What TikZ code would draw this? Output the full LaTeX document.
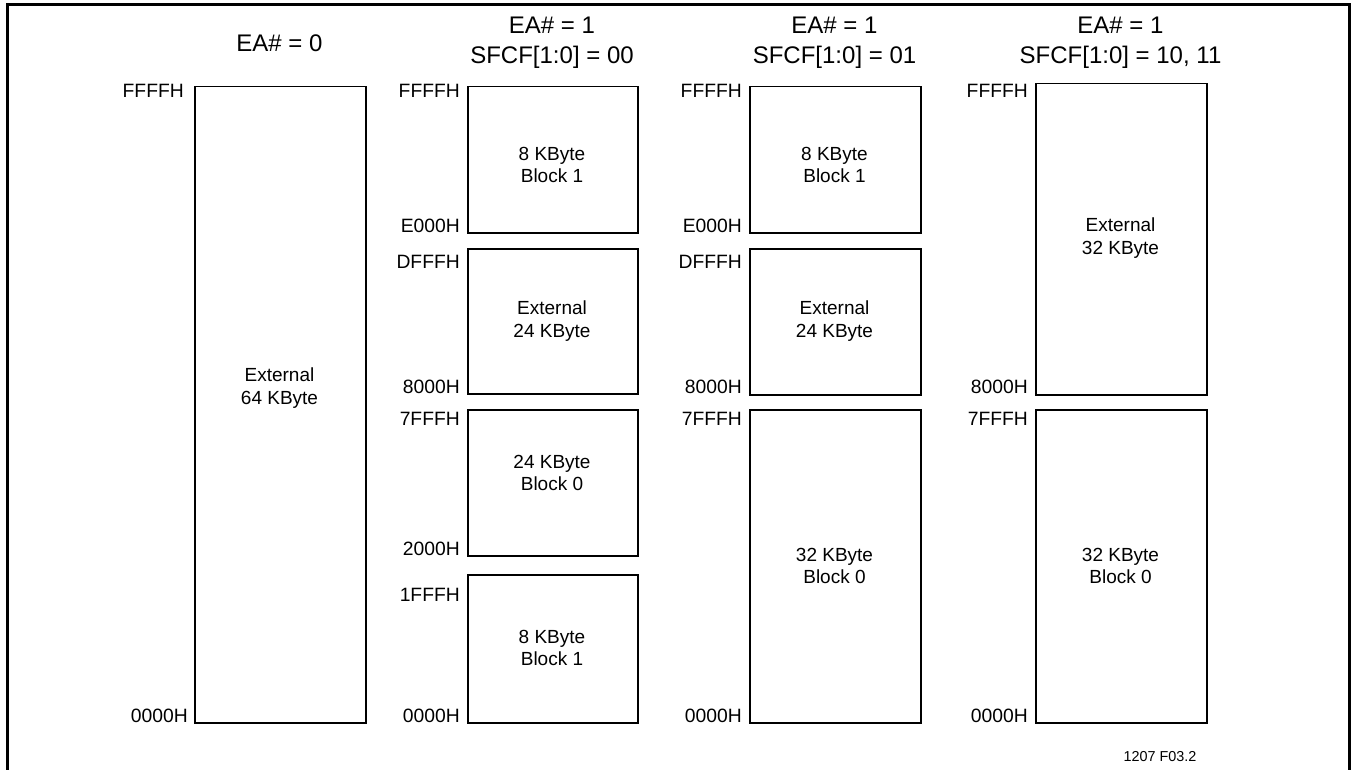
\documentclass[tikz,border=0pt]{standalone}
\usepackage{fontspec}
\setmainfont{Liberation Sans}
\begin{document}
\begin{tikzpicture}[x=1pt,y=-1pt,
  box/.style={draw, line width=1.5pt, inner sep=0pt, anchor=north west},
  boxtxt/.style={align=center, inner sep=0pt, font=\fontsize{19}{22.5}\selectfont},
  toplab/.style={anchor=north east, inner sep=0pt, font=\fontsize{19.3}{22}\selectfont},
  botlab/.style={anchor=base east, inner sep=0pt, font=\fontsize{19.3}{22}\selectfont},
  title/.style={align=center, inner sep=0pt, font=\fontsize{24}{30}\selectfont},
  foot/.style={inner sep=0pt, font=\fontsize{14.4}{17}\selectfont}]
\useasboundingbox (0,0) rectangle (1351,770);
% frame
\draw[line width=3pt, line join=miter] (7.5,772) -- (7.5,5) -- (1349,5) -- (1349,772);
% titles
\node[title] (t1) at (279.5,43) {EA\# = 0};
\node[title] (t2) at (552,43) {EA\# = 1\\SFCF[1:0] = 00};
\node[title] (t3) at (834.5,43) {EA\# = 1\\SFCF[1:0] = 01};
\node[title] (t4) at (1120.5,43) {EA\# = 1\\SFCF[1:0] = 10, 11};
% column 1
\node[box, minimum width=171pt, minimum height=636pt] (b1) at (194,86) {};
\node[boxtxt] (x1) at (279.5,388) {External\\64 KByte};
\node[toplab] (l1a) at (184,84) {FFFFH};
\node[botlab] (l1b) at (188,722) {0000H};
% column 2
\node[box, minimum width=170pt, minimum height=146pt] (b2a) at (467,86) {};
\node[boxtxt] (x2a) at (552,165) {8 KByte\\Block 1};
\node[box, minimum width=170pt, minimum height=145pt] (b2b) at (467,248) {};
\node[boxtxt] (x2b) at (552,321) {External\\24 KByte};
\node[box, minimum width=170pt, minimum height=146pt] (b2c) at (467,409) {};
\node[boxtxt] (x2c) at (552,473) {24 KByte\\Block 0};
\node[box, line width=2.2pt, minimum width=170pt, minimum height=148pt] (b2d) at (467,574) {};
\node[boxtxt] (x2d) at (552,648) {8 KByte\\Block 1};
\node[toplab] (l2a) at (460,84) {FFFFH};
\node[botlab] (l2b) at (460,232) {E000H};
\node[toplab] (l2c) at (460,255) {DFFFH};
\node[botlab] (l2d) at (460,393) {8000H};
\node[toplab] (l2e) at (460,412) {7FFFH};
\node[botlab] (l2f) at (460,555) {2000H};
\node[toplab] (l2g) at (460,588) {1FFFH};
\node[botlab] (l2h) at (460,722) {0000H};
% column 3
\node[box, minimum width=171pt, minimum height=146pt] (b3a) at (749,86) {};
\node[boxtxt] (x3a) at (834.5,165) {8 KByte\\Block 1};
\node[box, minimum width=171pt, minimum height=146pt] (b3b) at (749,248) {};
\node[boxtxt] (x3b) at (834.5,321) {External\\24 KByte};
\node[box, line width=1.8pt, minimum width=171pt, minimum height=313pt] (b3c) at (749,409) {};
\node[boxtxt] (x3c) at (834.5,566) {32 KByte\\Block 0};
\node[toplab] (l3a) at (742,84) {FFFFH};
\node[botlab] (l3b) at (742,232) {E000H};
\node[toplab] (l3c) at (742,255) {DFFFH};
\node[botlab] (l3d) at (742,393) {8000H};
\node[toplab] (l3e) at (742,412) {7FFFH};
\node[botlab] (l3f) at (742,722) {0000H};
% column 4
\node[box, minimum width=171pt, minimum height=311pt] (b4a) at (1035,83) {};
\node[boxtxt] (x4a) at (1120.5,238) {External\\32 KByte};
\node[box, line width=1.8pt, minimum width=171pt, minimum height=313pt] (b4b) at (1035,409) {};
\node[boxtxt] (x4b) at (1120.5,566) {32 KByte\\Block 0};
\node[toplab] (l4a) at (1028,84) {FFFFH};
\node[botlab] (l4b) at (1028,393) {8000H};
\node[toplab] (l4c) at (1028,412) {7FFFH};
\node[botlab] (l4d) at (1028,722) {0000H};
% footer
\node[foot] (f) at (1160,757) {1207 F03.2};
\end{tikzpicture}
\end{document}
